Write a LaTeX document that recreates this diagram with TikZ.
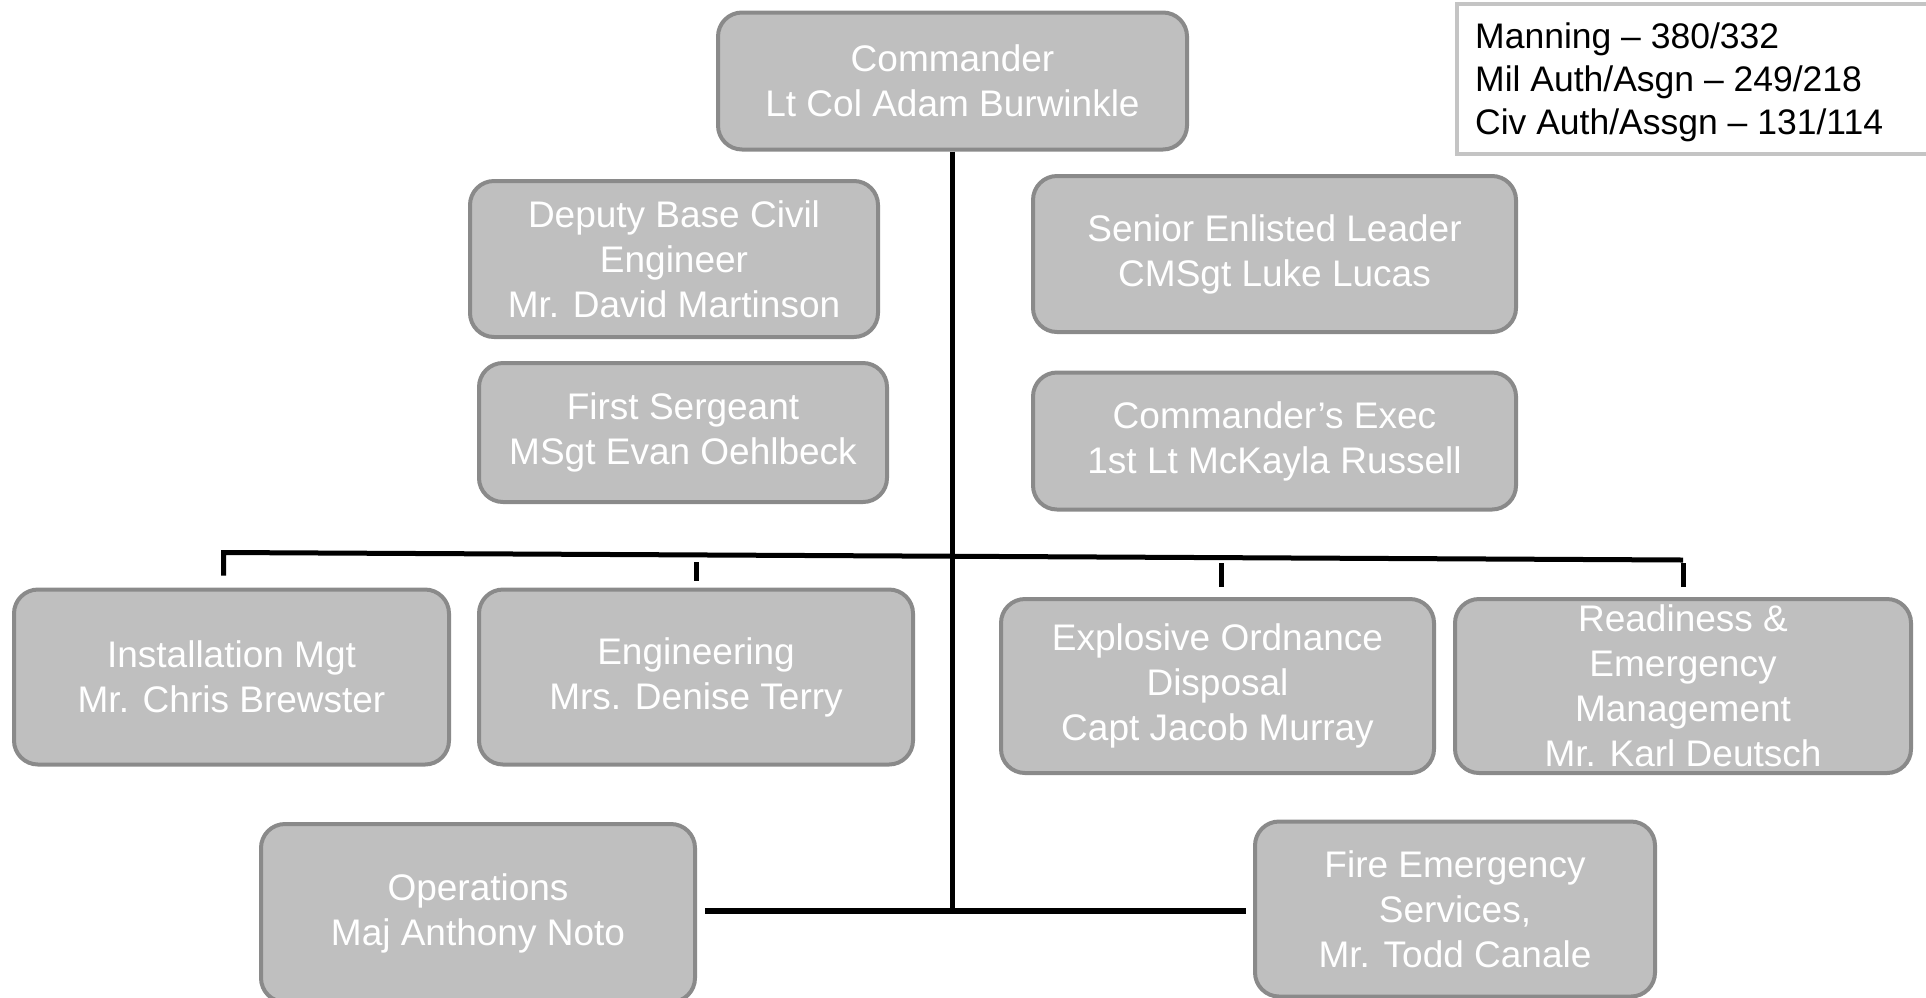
\documentclass[tikz,border=0pt]{standalone}
\usepackage{fontspec}
\setmainfont{Liberation Sans}
\usepackage{xcolor}
\usepackage{tikz}
\usetikzlibrary{positioning,calc}

\definecolor{boxfill}{HTML}{BFBFBF}
\definecolor{boxline}{HTML}{8A8A8A}
\definecolor{infoline}{HTML}{C4C4C4}

\begin{document}
\begin{tikzpicture}[x=1pt, y=-1pt,
        unit/.style={rounded corners=24pt, fill=boxfill, draw=boxline, line width=4pt,
            text=white, align=center, inner sep=0pt,
            font=\fontsize{37}{45}\selectfont},
        link/.style={line width=5pt, black}]
            \useasboundingbox (0,0) rectangle (1926,997);
            
            % top of the chart
            \node (Cmd) at (952.5,81) [unit, minimum width=469pt, minimum height=137pt] {Commander\\Lt Col Adam Burwinkle};
            \node (Info) at (1455,2) [anchor=north west, draw=infoline, line width=4pt, inner sep=0pt,
                minimum width=490pt, minimum height=150pt] {};
            \node (InfoText) at (1475,82) [anchor=west, align=left, inner sep=0pt,
                font=\fontsize{35.5}{43}\selectfont] {Manning -- 380/332\\Mil Auth/Asgn -- 249/218\\Civ Auth/Assgn -- 131/114};
            
            % staff
            \node (Deputy) at (674,259) [unit, minimum width=408pt, minimum height=156pt] {Deputy Base Civil\\Engineer\\Mr. David Martinson};
            \node (Senior) at (1274.5,254) [unit, minimum width=483pt, minimum height=156pt] {Senior Enlisted Leader\\CMSgt Luke Lucas};
            \node (FirstSgt) at (683,432.5) [unit, minimum width=408pt, minimum height=139pt] {First Sergeant\\MSgt Evan Oehlbeck};
            \node (Exec) at (1274.5,441) [unit, minimum width=483pt, minimum height=137pt] {Commander’s Exec\\1st Lt McKayla Russell};
            
            % flights
            \node (Install) at (231.5,677) [unit, minimum width=435pt, minimum height=175pt] {Installation Mgt\\Mr. Chris Brewster};
            \node (Eng) at (696,677) [unit, minimum width=434pt, minimum height=175pt] {Engineering\\Mrs. Denise Terry};
            \node (EOD) at (1217.5,686) [unit, minimum width=433pt, minimum height=174pt] {Explosive Ordnance\\Disposal\\Capt Jacob Murray};
            \node (Readiness) at (1683,686) [unit, minimum width=456pt, minimum height=174pt] {Readiness \&\\Emergency\\Management\\Mr. Karl Deutsch};
            \node (Ops) at (478,913) [unit, minimum width=434pt, minimum height=178pt] {Operations\\Maj Anthony Noto};
            \node (Fire) at (1455,909) [unit, minimum width=400pt, minimum height=175pt] {Fire Emergency\\Services,\\Mr. Todd Canale};
            
            \coordinate (BarL) at ([xshift=-8pt, yshift=35pt]Install.north);
            \coordinate (BarR) at ([yshift=37pt]Readiness.north);
            \coordinate (Joint) at (Cmd.south |- 0,911);
            
            \draw [link] (Cmd.south) -- (Joint);
            \draw [link, line width=6pt] ([xshift=8pt]Ops.east |- Joint) -- ([xshift=-7pt]Fire.west |- Joint);
            
            \draw [link] ([xshift=-8pt, yshift=12pt]Install.north) -- (BarL) -- (BarR);
            \draw [link] ([yshift=7pt]Eng.north) -- ++(0,-19);
            \draw [link] ([xshift=4pt, yshift=10pt]EOD.north) -- ++(0,-24);
            \draw [link] ([yshift=10pt]Readiness.north) -- ++(0,-24);
        \end{tikzpicture}
\end{document}
